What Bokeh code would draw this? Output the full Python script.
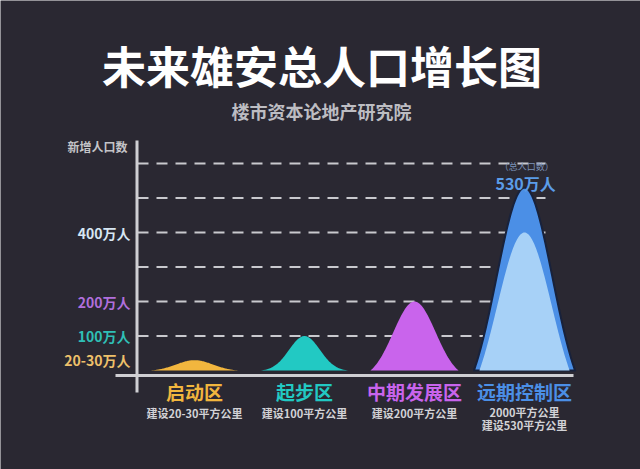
import numpy as np
from bokeh.plotting import figure
from bokeh.models import Range1d, Label, ColumnDataSource
from bokeh.embed import file_html
from bokeh.resources import INLINE
from bokeh.core.properties import value

# ---------------- data ----------------
title = "未来雄安总人口增长图"
subtitle = "楼市资本论地产研究院"
y_axis_title = "新增人口数"
categories = ["启动区", "起步区", "中期发展区", "远期控制区"]
area_notes = ["建设20-30平方公里", "建设100平方公里", "建设200平方公里", "建设530平方公里"]
far_note = "2000平方公里"
peaks = [30, 100, 200, 530]          # 新增人口 (万人)
far_inner_peak = 400                  # 远期控制区 inner layer (万人)
tick_values = [400, 200, 100, 30]
tick_labels = ["400万人", "200万人", "100万人", "20-30万人"]
grid_values = [100, 200, 300, 400, 500, 600]
peak_note = "（总人口数）"
peak_label = "530万人"

# ---------------- style ----------------
BG = "#2a2832"
FONT = "Noto Sans CJK SC"
cat_colors = ["#f2b63e", "#22c9c3", "#c964ec", "#4b8fe6"]
tick_colors = ["#d6e6f3", "#b06fdc", "#2fbfb6", "#eec06a"]
hump_sigma = [0.42, 0.35, 0.48, 0.55]
hump_half = [0.40, 0.40, 0.40, 0.46]

# pixel <-> data helpers (layout only)
X0, DX, Y0, KY = 194.0, 110.0, 370.0, 0.345
def xd(px):
    return (px - X0) / DX
def yd(py):
    return (Y0 - py) / KY

p = figure(width=640, height=469, x_range=Range1d(xd(0), xd(640)),
           y_range=Range1d(yd(469), yd(0)), min_border=0,
           toolbar_location=None, output_backend="svg",
           x_axis_type=None, y_axis_type=None,
           background_fill_color=BG, border_fill_color=BG,
           outline_line_color=None)
p.grid.visible = False

# dashed grid lines
p.segment(x0=[xd(137)] * len(grid_values), x1=[xd(545)] * len(grid_values),
          y0=grid_values, y1=grid_values, line_color="#c9c9ce",
          line_width=2, line_dash="11 8")

def hump(center, peak, half, s, n=121):
    t = np.linspace(-1, 1, n)
    g = np.exp(-0.5 * (t / s) ** 2)
    g1 = np.exp(-0.5 * (1 / s) ** 2)
    y = peak * (g - g1) / (1 - g1)
    xs = center + half * t
    return list(xs), list(y)

for i, pk in enumerate(peaks):
    xs, ys = hump(i, pk, hump_half[i], hump_sigma[i])
    if i == 3:
        p.patch(xs, ys, fill_color=cat_colors[i], line_color="#18223c",
                line_width=2, line_join="round")
        xs2, ys2 = hump(i, far_inner_peak, 0.41, 0.6)
        p.patch(xs2, ys2, fill_color="#a7d1f7", line_color=None)
    else:
        p.patch(xs, ys, fill_color=cat_colors[i], line_color=None)

# axis lines
p.segment(x0=[xd(115)], x1=[xd(573)], y0=[yd(375)], y1=[yd(375)],
          line_color="#cfcfd3", line_width=3)
p.segment(x0=[xd(136.5)], x1=[xd(136.5)], y0=[yd(140)], y1=[yd(392)],
          line_color="#cfcfd3", line_width=3)

# y tick labels
tsrc = ColumnDataSource(dict(x=[xd(130)] * len(tick_values), y=tick_values,
                             text=tick_labels, color=tick_colors))
p.text(x="x", y="y", text="text", source=tsrc, text_color="color",
       text_font=value(FONT), text_font_style="bold", text_font_size="14px",
       text_align="right", text_baseline="middle")

# category labels
idx = list(range(len(categories)))
csrc = ColumnDataSource(dict(x=idx, y=[yd(390.5)] * 4, text=categories, color=cat_colors))
p.text(x="x", y="y", text="text", source=csrc, text_color="color",
       text_font=value(FONT), text_font_style="bold", text_font_size="19px",
       text_align="center", text_baseline="middle")

note_y = [yd(412), yd(412), yd(412), yd(424)]
nsrc = ColumnDataSource(dict(x=idx, y=note_y, text=area_notes))
p.text(x="x", y="y", text="text", source=nsrc, text_color="#d2d2d6",
       text_font=value(FONT), text_font_style="bold", text_font_size="11px",
       text_align="center", text_baseline="middle")

def label(x, y, text, size, color, style="bold", align="center"):
    p.add_layout(Label(x=x, y=y, text=text, text_font=FONT, text_font_size=size,
                       text_color=color, text_font_style=style,
                       text_align=align, text_baseline="middle"))

label(3, yd(411), far_note, "11px", "#d2d2d6")
label(xd(321.5), yd(64), title, "44px", "#ffffff")
label(xd(321), yd(110), subtitle, "18px", "#bdbdc2")
label(xd(127), yd(146), y_axis_title, "12px", "#c4c4c8", align="right")
label(3.02, yd(166), peak_note, "9px", "#7d93b8", style="normal")
label(3.01, yd(182), peak_label, "16px", "#5b9ce8")

open("out.html", "w").write(file_html(p, INLINE))
